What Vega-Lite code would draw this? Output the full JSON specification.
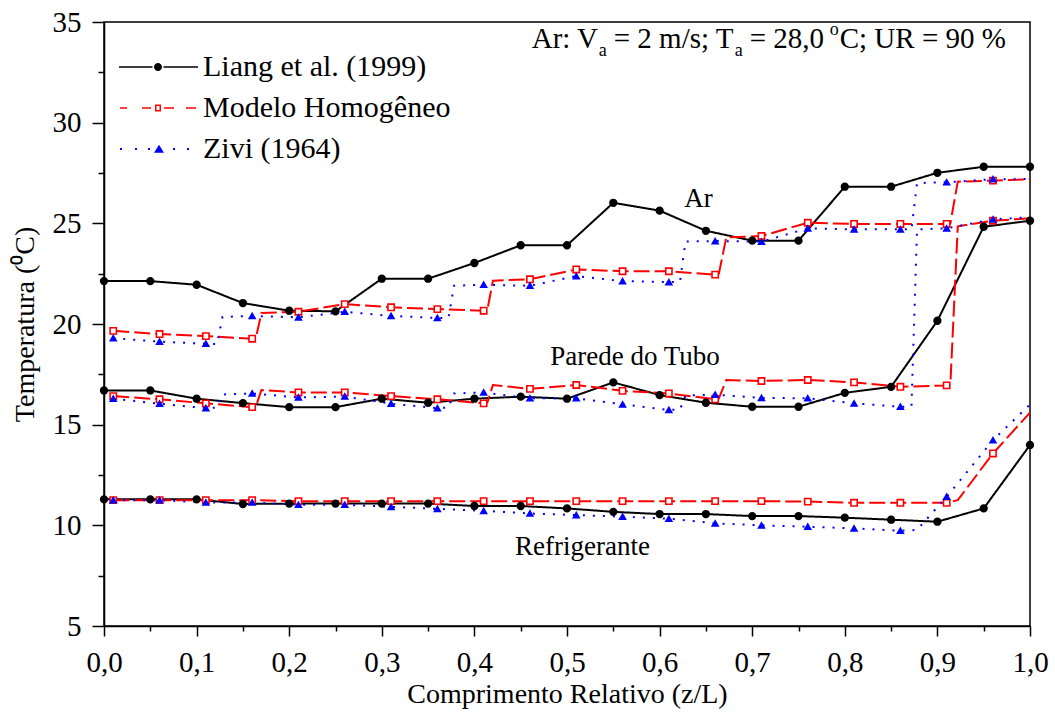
{
  "$schema": "https://vega.github.io/schema/vega-lite/v6.json",
  "width": 926,
  "height": 604,
  "autosize": {"type": "none"},
  "padding": {"left": 104, "top": 22, "right": 25, "bottom": 92},
  "background": "white",
  "config": {
    "view": {"stroke": "black", "strokeWidth": 1.5},
    "font": "Liberation Serif",
    "axis": {
      "grid": false,
      "domainColor": "black",
      "domainWidth": 1.5,
      "tickColor": "black",
      "tickWidth": 1.5,
      "labelColor": "black",
      "labelFont": "Liberation Serif",
      "labelFontSize": 29,
      "titleFont": "Liberation Serif",
      "titleFontSize": 28,
      "titleFontWeight": "normal",
      "titleColor": "black",
      "labelOverlap": false,
      "labelBound": false,
      "labelFlush": false
    }
  },
  "resolve": {"scale": {"shape": "independent", "fill": "independent"}},
  "datasets": {
    "medidas": [
      {"s": "Liang et al. (1999)", "c": "Ar", "z": 0.00, "T": 22.13, "m": 1},
      {"s": "Liang et al. (1999)", "c": "Ar", "z": 0.05, "T": 22.13, "m": 1},
      {"s": "Liang et al. (1999)", "c": "Ar", "z": 0.10, "T": 21.95, "m": 1},
      {"s": "Liang et al. (1999)", "c": "Ar", "z": 0.15, "T": 21.04, "m": 1},
      {"s": "Liang et al. (1999)", "c": "Ar", "z": 0.20, "T": 20.66, "m": 1},
      {"s": "Liang et al. (1999)", "c": "Ar", "z": 0.25, "T": 20.63, "m": 1},
      {"s": "Liang et al. (1999)", "c": "Ar", "z": 0.30, "T": 22.25, "m": 1},
      {"s": "Liang et al. (1999)", "c": "Ar", "z": 0.35, "T": 22.25, "m": 1},
      {"s": "Liang et al. (1999)", "c": "Ar", "z": 0.40, "T": 23.03, "m": 1},
      {"s": "Liang et al. (1999)", "c": "Ar", "z": 0.45, "T": 23.91, "m": 1},
      {"s": "Liang et al. (1999)", "c": "Ar", "z": 0.50, "T": 23.91, "m": 1},
      {"s": "Liang et al. (1999)", "c": "Ar", "z": 0.55, "T": 26.02, "m": 1},
      {"s": "Liang et al. (1999)", "c": "Ar", "z": 0.60, "T": 25.63, "m": 1},
      {"s": "Liang et al. (1999)", "c": "Ar", "z": 0.65, "T": 24.63, "m": 1},
      {"s": "Liang et al. (1999)", "c": "Ar", "z": 0.70, "T": 24.14, "m": 1},
      {"s": "Liang et al. (1999)", "c": "Ar", "z": 0.75, "T": 24.14, "m": 1},
      {"s": "Liang et al. (1999)", "c": "Ar", "z": 0.80, "T": 26.82, "m": 1},
      {"s": "Liang et al. (1999)", "c": "Ar", "z": 0.85, "T": 26.82, "m": 1},
      {"s": "Liang et al. (1999)", "c": "Ar", "z": 0.90, "T": 27.51, "m": 1},
      {"s": "Liang et al. (1999)", "c": "Ar", "z": 0.95, "T": 27.81, "m": 1},
      {"s": "Liang et al. (1999)", "c": "Ar", "z": 1.00, "T": 27.81, "m": 1},
      {"s": "Liang et al. (1999)", "c": "Parede", "z": 0.00, "T": 16.70, "m": 1},
      {"s": "Liang et al. (1999)", "c": "Parede", "z": 0.05, "T": 16.70, "m": 1},
      {"s": "Liang et al. (1999)", "c": "Parede", "z": 0.10, "T": 16.29, "m": 1},
      {"s": "Liang et al. (1999)", "c": "Parede", "z": 0.15, "T": 16.07, "m": 1},
      {"s": "Liang et al. (1999)", "c": "Parede", "z": 0.20, "T": 15.87, "m": 1},
      {"s": "Liang et al. (1999)", "c": "Parede", "z": 0.25, "T": 15.87, "m": 1},
      {"s": "Liang et al. (1999)", "c": "Parede", "z": 0.30, "T": 16.29, "m": 1},
      {"s": "Liang et al. (1999)", "c": "Parede", "z": 0.35, "T": 16.09, "m": 1},
      {"s": "Liang et al. (1999)", "c": "Parede", "z": 0.40, "T": 16.29, "m": 1},
      {"s": "Liang et al. (1999)", "c": "Parede", "z": 0.45, "T": 16.39, "m": 1},
      {"s": "Liang et al. (1999)", "c": "Parede", "z": 0.50, "T": 16.29, "m": 1},
      {"s": "Liang et al. (1999)", "c": "Parede", "z": 0.55, "T": 17.10, "m": 1},
      {"s": "Liang et al. (1999)", "c": "Parede", "z": 0.60, "T": 16.47, "m": 1},
      {"s": "Liang et al. (1999)", "c": "Parede", "z": 0.65, "T": 16.09, "m": 1},
      {"s": "Liang et al. (1999)", "c": "Parede", "z": 0.70, "T": 15.89, "m": 1},
      {"s": "Liang et al. (1999)", "c": "Parede", "z": 0.75, "T": 15.89, "m": 1},
      {"s": "Liang et al. (1999)", "c": "Parede", "z": 0.80, "T": 16.58, "m": 1},
      {"s": "Liang et al. (1999)", "c": "Parede", "z": 0.85, "T": 16.88, "m": 1},
      {"s": "Liang et al. (1999)", "c": "Parede", "z": 0.90, "T": 20.16, "m": 1},
      {"s": "Liang et al. (1999)", "c": "Parede", "z": 0.95, "T": 24.83, "m": 1},
      {"s": "Liang et al. (1999)", "c": "Parede", "z": 1.00, "T": 25.13, "m": 1},
      {"s": "Liang et al. (1999)", "c": "Refrigerante", "z": 0.00, "T": 11.29, "m": 1},
      {"s": "Liang et al. (1999)", "c": "Refrigerante", "z": 0.05, "T": 11.29, "m": 1},
      {"s": "Liang et al. (1999)", "c": "Refrigerante", "z": 0.10, "T": 11.29, "m": 1},
      {"s": "Liang et al. (1999)", "c": "Refrigerante", "z": 0.15, "T": 11.06, "m": 1},
      {"s": "Liang et al. (1999)", "c": "Refrigerante", "z": 0.20, "T": 11.08, "m": 1},
      {"s": "Liang et al. (1999)", "c": "Refrigerante", "z": 0.25, "T": 11.08, "m": 1},
      {"s": "Liang et al. (1999)", "c": "Refrigerante", "z": 0.30, "T": 11.08, "m": 1},
      {"s": "Liang et al. (1999)", "c": "Refrigerante", "z": 0.35, "T": 11.08, "m": 1},
      {"s": "Liang et al. (1999)", "c": "Refrigerante", "z": 0.40, "T": 10.96, "m": 1},
      {"s": "Liang et al. (1999)", "c": "Refrigerante", "z": 0.45, "T": 10.96, "m": 1},
      {"s": "Liang et al. (1999)", "c": "Refrigerante", "z": 0.50, "T": 10.84, "m": 1},
      {"s": "Liang et al. (1999)", "c": "Refrigerante", "z": 0.55, "T": 10.67, "m": 1},
      {"s": "Liang et al. (1999)", "c": "Refrigerante", "z": 0.60, "T": 10.56, "m": 1},
      {"s": "Liang et al. (1999)", "c": "Refrigerante", "z": 0.65, "T": 10.56, "m": 1},
      {"s": "Liang et al. (1999)", "c": "Refrigerante", "z": 0.70, "T": 10.46, "m": 1},
      {"s": "Liang et al. (1999)", "c": "Refrigerante", "z": 0.75, "T": 10.46, "m": 1},
      {"s": "Liang et al. (1999)", "c": "Refrigerante", "z": 0.80, "T": 10.38, "m": 1},
      {"s": "Liang et al. (1999)", "c": "Refrigerante", "z": 0.85, "T": 10.28, "m": 1},
      {"s": "Liang et al. (1999)", "c": "Refrigerante", "z": 0.90, "T": 10.18, "m": 1},
      {"s": "Liang et al. (1999)", "c": "Refrigerante", "z": 0.95, "T": 10.84, "m": 1},
      {"s": "Liang et al. (1999)", "c": "Refrigerante", "z": 1.00, "T": 13.99, "m": 1},

      {"s": "Modelo Homogêneo", "c": "Ar", "z": 0.01, "T": 19.66, "m": 1},
      {"s": "Modelo Homogêneo", "c": "Ar", "z": 0.06, "T": 19.50, "m": 1},
      {"s": "Modelo Homogêneo", "c": "Ar", "z": 0.11, "T": 19.40, "m": 1},
      {"s": "Modelo Homogêneo", "c": "Ar", "z": 0.16, "T": 19.27, "m": 1},
      {"s": "Modelo Homogêneo", "c": "Ar", "z": 0.164, "T": 19.30, "m": 0},
      {"s": "Modelo Homogêneo", "c": "Ar", "z": 0.17, "T": 20.55, "m": 0},
      {"s": "Modelo Homogêneo", "c": "Ar", "z": 0.21, "T": 20.61, "m": 1},
      {"s": "Modelo Homogêneo", "c": "Ar", "z": 0.26, "T": 20.99, "m": 1},
      {"s": "Modelo Homogêneo", "c": "Ar", "z": 0.31, "T": 20.83, "m": 1},
      {"s": "Modelo Homogêneo", "c": "Ar", "z": 0.36, "T": 20.74, "m": 1},
      {"s": "Modelo Homogêneo", "c": "Ar", "z": 0.41, "T": 20.66, "m": 1},
      {"s": "Modelo Homogêneo", "c": "Ar", "z": 0.414, "T": 20.70, "m": 0},
      {"s": "Modelo Homogêneo", "c": "Ar", "z": 0.42, "T": 22.15, "m": 0},
      {"s": "Modelo Homogêneo", "c": "Ar", "z": 0.46, "T": 22.22, "m": 1},
      {"s": "Modelo Homogêneo", "c": "Ar", "z": 0.51, "T": 22.71, "m": 1},
      {"s": "Modelo Homogêneo", "c": "Ar", "z": 0.56, "T": 22.62, "m": 1},
      {"s": "Modelo Homogêneo", "c": "Ar", "z": 0.61, "T": 22.62, "m": 1},
      {"s": "Modelo Homogêneo", "c": "Ar", "z": 0.66, "T": 22.45, "m": 1},
      {"s": "Modelo Homogêneo", "c": "Ar", "z": 0.664, "T": 22.50, "m": 0},
      {"s": "Modelo Homogêneo", "c": "Ar", "z": 0.672, "T": 24.30, "m": 0},
      {"s": "Modelo Homogêneo", "c": "Ar", "z": 0.71, "T": 24.37, "m": 1},
      {"s": "Modelo Homogêneo", "c": "Ar", "z": 0.76, "T": 25.03, "m": 1},
      {"s": "Modelo Homogêneo", "c": "Ar", "z": 0.81, "T": 24.97, "m": 1},
      {"s": "Modelo Homogêneo", "c": "Ar", "z": 0.86, "T": 24.97, "m": 1},
      {"s": "Modelo Homogêneo", "c": "Ar", "z": 0.91, "T": 24.97, "m": 1},
      {"s": "Modelo Homogêneo", "c": "Ar", "z": 0.914, "T": 25.00, "m": 0},
      {"s": "Modelo Homogêneo", "c": "Ar", "z": 0.922, "T": 27.07, "m": 0},
      {"s": "Modelo Homogêneo", "c": "Ar", "z": 0.96, "T": 27.12, "m": 1},
      {"s": "Modelo Homogêneo", "c": "Ar", "z": 1.00, "T": 27.19, "m": 0},
      {"s": "Modelo Homogêneo", "c": "Parede", "z": 0.01, "T": 16.42, "m": 1},
      {"s": "Modelo Homogêneo", "c": "Parede", "z": 0.06, "T": 16.26, "m": 1},
      {"s": "Modelo Homogêneo", "c": "Parede", "z": 0.11, "T": 16.06, "m": 1},
      {"s": "Modelo Homogêneo", "c": "Parede", "z": 0.16, "T": 15.87, "m": 1},
      {"s": "Modelo Homogêneo", "c": "Parede", "z": 0.164, "T": 15.90, "m": 0},
      {"s": "Modelo Homogêneo", "c": "Parede", "z": 0.17, "T": 16.72, "m": 0},
      {"s": "Modelo Homogêneo", "c": "Parede", "z": 0.21, "T": 16.60, "m": 1},
      {"s": "Modelo Homogêneo", "c": "Parede", "z": 0.26, "T": 16.60, "m": 1},
      {"s": "Modelo Homogêneo", "c": "Parede", "z": 0.31, "T": 16.42, "m": 1},
      {"s": "Modelo Homogêneo", "c": "Parede", "z": 0.36, "T": 16.26, "m": 1},
      {"s": "Modelo Homogêneo", "c": "Parede", "z": 0.41, "T": 16.06, "m": 1},
      {"s": "Modelo Homogêneo", "c": "Parede", "z": 0.414, "T": 16.10, "m": 0},
      {"s": "Modelo Homogêneo", "c": "Parede", "z": 0.42, "T": 16.97, "m": 0},
      {"s": "Modelo Homogêneo", "c": "Parede", "z": 0.46, "T": 16.78, "m": 1},
      {"s": "Modelo Homogêneo", "c": "Parede", "z": 0.51, "T": 16.97, "m": 1},
      {"s": "Modelo Homogêneo", "c": "Parede", "z": 0.56, "T": 16.68, "m": 1},
      {"s": "Modelo Homogêneo", "c": "Parede", "z": 0.61, "T": 16.55, "m": 1},
      {"s": "Modelo Homogêneo", "c": "Parede", "z": 0.66, "T": 16.26, "m": 1},
      {"s": "Modelo Homogêneo", "c": "Parede", "z": 0.664, "T": 16.30, "m": 0},
      {"s": "Modelo Homogêneo", "c": "Parede", "z": 0.672, "T": 17.22, "m": 0},
      {"s": "Modelo Homogêneo", "c": "Parede", "z": 0.71, "T": 17.17, "m": 1},
      {"s": "Modelo Homogêneo", "c": "Parede", "z": 0.76, "T": 17.22, "m": 1},
      {"s": "Modelo Homogêneo", "c": "Parede", "z": 0.81, "T": 17.10, "m": 1},
      {"s": "Modelo Homogêneo", "c": "Parede", "z": 0.86, "T": 16.88, "m": 1},
      {"s": "Modelo Homogêneo", "c": "Parede", "z": 0.91, "T": 16.95, "m": 1},
      {"s": "Modelo Homogêneo", "c": "Parede", "z": 0.914, "T": 17.00, "m": 0},
      {"s": "Modelo Homogêneo", "c": "Parede", "z": 0.922, "T": 24.85, "m": 0},
      {"s": "Modelo Homogêneo", "c": "Parede", "z": 0.96, "T": 25.13, "m": 1},
      {"s": "Modelo Homogêneo", "c": "Parede", "z": 1.00, "T": 25.25, "m": 0},
      {"s": "Modelo Homogêneo", "c": "Refrigerante", "z": 0.01, "T": 11.25, "m": 1},
      {"s": "Modelo Homogêneo", "c": "Refrigerante", "z": 0.06, "T": 11.25, "m": 1},
      {"s": "Modelo Homogêneo", "c": "Refrigerante", "z": 0.11, "T": 11.25, "m": 1},
      {"s": "Modelo Homogêneo", "c": "Refrigerante", "z": 0.16, "T": 11.25, "m": 1},
      {"s": "Modelo Homogêneo", "c": "Refrigerante", "z": 0.21, "T": 11.20, "m": 1},
      {"s": "Modelo Homogêneo", "c": "Refrigerante", "z": 0.26, "T": 11.20, "m": 1},
      {"s": "Modelo Homogêneo", "c": "Refrigerante", "z": 0.31, "T": 11.20, "m": 1},
      {"s": "Modelo Homogêneo", "c": "Refrigerante", "z": 0.36, "T": 11.20, "m": 1},
      {"s": "Modelo Homogêneo", "c": "Refrigerante", "z": 0.41, "T": 11.20, "m": 1},
      {"s": "Modelo Homogêneo", "c": "Refrigerante", "z": 0.46, "T": 11.20, "m": 1},
      {"s": "Modelo Homogêneo", "c": "Refrigerante", "z": 0.51, "T": 11.20, "m": 1},
      {"s": "Modelo Homogêneo", "c": "Refrigerante", "z": 0.56, "T": 11.20, "m": 1},
      {"s": "Modelo Homogêneo", "c": "Refrigerante", "z": 0.61, "T": 11.20, "m": 1},
      {"s": "Modelo Homogêneo", "c": "Refrigerante", "z": 0.66, "T": 11.20, "m": 1},
      {"s": "Modelo Homogêneo", "c": "Refrigerante", "z": 0.71, "T": 11.20, "m": 1},
      {"s": "Modelo Homogêneo", "c": "Refrigerante", "z": 0.76, "T": 11.18, "m": 1},
      {"s": "Modelo Homogêneo", "c": "Refrigerante", "z": 0.81, "T": 11.12, "m": 1},
      {"s": "Modelo Homogêneo", "c": "Refrigerante", "z": 0.86, "T": 11.12, "m": 1},
      {"s": "Modelo Homogêneo", "c": "Refrigerante", "z": 0.91, "T": 11.12, "m": 1},
      {"s": "Modelo Homogêneo", "c": "Refrigerante", "z": 0.922, "T": 11.25, "m": 0},
      {"s": "Modelo Homogêneo", "c": "Refrigerante", "z": 0.96, "T": 13.57, "m": 1},
      {"s": "Modelo Homogêneo", "c": "Refrigerante", "z": 1.00, "T": 15.60, "m": 0},

      {"s": "Zivi (1964)", "c": "Ar", "z": 0.01, "T": 19.30, "m": 1},
      {"s": "Zivi (1964)", "c": "Ar", "z": 0.06, "T": 19.12, "m": 1},
      {"s": "Zivi (1964)", "c": "Ar", "z": 0.11, "T": 19.02, "m": 1},
      {"s": "Zivi (1964)", "c": "Ar", "z": 0.122, "T": 19.00, "m": 0},
      {"s": "Zivi (1964)", "c": "Ar", "z": 0.128, "T": 20.35, "m": 0},
      {"s": "Zivi (1964)", "c": "Ar", "z": 0.16, "T": 20.40, "m": 1},
      {"s": "Zivi (1964)", "c": "Ar", "z": 0.21, "T": 20.33, "m": 1},
      {"s": "Zivi (1964)", "c": "Ar", "z": 0.26, "T": 20.61, "m": 1},
      {"s": "Zivi (1964)", "c": "Ar", "z": 0.31, "T": 20.40, "m": 1},
      {"s": "Zivi (1964)", "c": "Ar", "z": 0.36, "T": 20.30, "m": 1},
      {"s": "Zivi (1964)", "c": "Ar", "z": 0.372, "T": 20.30, "m": 0},
      {"s": "Zivi (1964)", "c": "Ar", "z": 0.378, "T": 21.90, "m": 0},
      {"s": "Zivi (1964)", "c": "Ar", "z": 0.41, "T": 21.95, "m": 1},
      {"s": "Zivi (1964)", "c": "Ar", "z": 0.46, "T": 21.90, "m": 1},
      {"s": "Zivi (1964)", "c": "Ar", "z": 0.51, "T": 22.38, "m": 1},
      {"s": "Zivi (1964)", "c": "Ar", "z": 0.56, "T": 22.13, "m": 1},
      {"s": "Zivi (1964)", "c": "Ar", "z": 0.61, "T": 22.08, "m": 1},
      {"s": "Zivi (1964)", "c": "Ar", "z": 0.622, "T": 22.10, "m": 0},
      {"s": "Zivi (1964)", "c": "Ar", "z": 0.628, "T": 24.10, "m": 0},
      {"s": "Zivi (1964)", "c": "Ar", "z": 0.66, "T": 24.12, "m": 1},
      {"s": "Zivi (1964)", "c": "Ar", "z": 0.71, "T": 24.09, "m": 1},
      {"s": "Zivi (1964)", "c": "Ar", "z": 0.76, "T": 24.75, "m": 1},
      {"s": "Zivi (1964)", "c": "Ar", "z": 0.81, "T": 24.70, "m": 1},
      {"s": "Zivi (1964)", "c": "Ar", "z": 0.86, "T": 24.70, "m": 1},
      {"s": "Zivi (1964)", "c": "Ar", "z": 0.872, "T": 24.70, "m": 0},
      {"s": "Zivi (1964)", "c": "Ar", "z": 0.878, "T": 27.00, "m": 0},
      {"s": "Zivi (1964)", "c": "Ar", "z": 0.91, "T": 27.04, "m": 1},
      {"s": "Zivi (1964)", "c": "Ar", "z": 0.96, "T": 27.19, "m": 1},
      {"s": "Zivi (1964)", "c": "Ar", "z": 1.00, "T": 27.20, "m": 0},
      {"s": "Zivi (1964)", "c": "Parede", "z": 0.01, "T": 16.29, "m": 1},
      {"s": "Zivi (1964)", "c": "Parede", "z": 0.06, "T": 16.04, "m": 1},
      {"s": "Zivi (1964)", "c": "Parede", "z": 0.11, "T": 15.82, "m": 1},
      {"s": "Zivi (1964)", "c": "Parede", "z": 0.122, "T": 15.85, "m": 0},
      {"s": "Zivi (1964)", "c": "Parede", "z": 0.128, "T": 16.50, "m": 0},
      {"s": "Zivi (1964)", "c": "Parede", "z": 0.16, "T": 16.55, "m": 1},
      {"s": "Zivi (1964)", "c": "Parede", "z": 0.21, "T": 16.35, "m": 1},
      {"s": "Zivi (1964)", "c": "Parede", "z": 0.26, "T": 16.40, "m": 1},
      {"s": "Zivi (1964)", "c": "Parede", "z": 0.31, "T": 16.04, "m": 1},
      {"s": "Zivi (1964)", "c": "Parede", "z": 0.36, "T": 15.82, "m": 1},
      {"s": "Zivi (1964)", "c": "Parede", "z": 0.372, "T": 15.85, "m": 0},
      {"s": "Zivi (1964)", "c": "Parede", "z": 0.378, "T": 16.55, "m": 0},
      {"s": "Zivi (1964)", "c": "Parede", "z": 0.41, "T": 16.60, "m": 1},
      {"s": "Zivi (1964)", "c": "Parede", "z": 0.46, "T": 16.31, "m": 1},
      {"s": "Zivi (1964)", "c": "Parede", "z": 0.51, "T": 16.31, "m": 1},
      {"s": "Zivi (1964)", "c": "Parede", "z": 0.56, "T": 16.01, "m": 1},
      {"s": "Zivi (1964)", "c": "Parede", "z": 0.61, "T": 15.73, "m": 1},
      {"s": "Zivi (1964)", "c": "Parede", "z": 0.622, "T": 15.75, "m": 0},
      {"s": "Zivi (1964)", "c": "Parede", "z": 0.628, "T": 16.45, "m": 0},
      {"s": "Zivi (1964)", "c": "Parede", "z": 0.66, "T": 16.49, "m": 1},
      {"s": "Zivi (1964)", "c": "Parede", "z": 0.71, "T": 16.33, "m": 1},
      {"s": "Zivi (1964)", "c": "Parede", "z": 0.76, "T": 16.31, "m": 1},
      {"s": "Zivi (1964)", "c": "Parede", "z": 0.81, "T": 16.06, "m": 1},
      {"s": "Zivi (1964)", "c": "Parede", "z": 0.86, "T": 15.89, "m": 1},
      {"s": "Zivi (1964)", "c": "Parede", "z": 0.872, "T": 15.90, "m": 0},
      {"s": "Zivi (1964)", "c": "Parede", "z": 0.878, "T": 24.70, "m": 0},
      {"s": "Zivi (1964)", "c": "Parede", "z": 0.91, "T": 24.75, "m": 1},
      {"s": "Zivi (1964)", "c": "Parede", "z": 0.96, "T": 25.20, "m": 1},
      {"s": "Zivi (1964)", "c": "Parede", "z": 1.00, "T": 25.30, "m": 0},
      {"s": "Zivi (1964)", "c": "Refrigerante", "z": 0.01, "T": 11.25, "m": 1},
      {"s": "Zivi (1964)", "c": "Refrigerante", "z": 0.06, "T": 11.25, "m": 1},
      {"s": "Zivi (1964)", "c": "Refrigerante", "z": 0.11, "T": 11.14, "m": 1},
      {"s": "Zivi (1964)", "c": "Refrigerante", "z": 0.16, "T": 11.14, "m": 1},
      {"s": "Zivi (1964)", "c": "Refrigerante", "z": 0.21, "T": 11.02, "m": 1},
      {"s": "Zivi (1964)", "c": "Refrigerante", "z": 0.26, "T": 11.02, "m": 1},
      {"s": "Zivi (1964)", "c": "Refrigerante", "z": 0.31, "T": 10.92, "m": 1},
      {"s": "Zivi (1964)", "c": "Refrigerante", "z": 0.36, "T": 10.82, "m": 1},
      {"s": "Zivi (1964)", "c": "Refrigerante", "z": 0.41, "T": 10.72, "m": 1},
      {"s": "Zivi (1964)", "c": "Refrigerante", "z": 0.46, "T": 10.59, "m": 1},
      {"s": "Zivi (1964)", "c": "Refrigerante", "z": 0.51, "T": 10.51, "m": 1},
      {"s": "Zivi (1964)", "c": "Refrigerante", "z": 0.56, "T": 10.43, "m": 1},
      {"s": "Zivi (1964)", "c": "Refrigerante", "z": 0.61, "T": 10.33, "m": 1},
      {"s": "Zivi (1964)", "c": "Refrigerante", "z": 0.66, "T": 10.10, "m": 1},
      {"s": "Zivi (1964)", "c": "Refrigerante", "z": 0.71, "T": 10.00, "m": 1},
      {"s": "Zivi (1964)", "c": "Refrigerante", "z": 0.76, "T": 9.93, "m": 1},
      {"s": "Zivi (1964)", "c": "Refrigerante", "z": 0.81, "T": 9.85, "m": 1},
      {"s": "Zivi (1964)", "c": "Refrigerante", "z": 0.86, "T": 9.73, "m": 1},
      {"s": "Zivi (1964)", "c": "Refrigerante", "z": 0.878, "T": 9.77, "m": 0},
      {"s": "Zivi (1964)", "c": "Refrigerante", "z": 0.91, "T": 11.42, "m": 1},
      {"s": "Zivi (1964)", "c": "Refrigerante", "z": 0.96, "T": 14.23, "m": 1},
      {"s": "Zivi (1964)", "c": "Refrigerante", "z": 1.00, "T": 16.00, "m": 0}
    ],
    "rotulos": [
      {"z": 0.642, "T": 25.81, "rotulo": "Ar"},
      {"z": 0.5734, "T": 17.96, "rotulo": "Parede do Tubo"},
      {"z": 0.5167, "T": 8.52, "rotulo": "Refrigerante"}
    ],
    "condicoes": [
      {"z": 0.4619, "T": 33.71}
    ]
  },
  "encoding": {
    "x": {
      "field": "z",
      "type": "quantitative",
      "scale": {"domain": [0, 1], "nice": false, "zero": false},
      "axis": {
        "title": "Comprimento Relativo (z/L)",
        "values": [0, 0.05, 0.1, 0.15, 0.2, 0.25, 0.3, 0.35, 0.4, 0.45, 0.5, 0.55, 0.6, 0.65, 0.7, 0.75, 0.8, 0.85, 0.9, 0.95, 1.0],
        "labelExpr": "round(datum.value * 20) % 2 == 0 ? replace(format(datum.value, '.1f'), '.', ',') : ''",
        "tickSize": {"condition": {"test": "round(datum.value * 20) % 2 == 1", "value": 5}, "value": 10},
        "labelPadding": 12,
        "titlePadding": 3
      }
    },
    "y": {
      "field": "T",
      "type": "quantitative",
      "scale": {"domain": [5, 35], "nice": false, "zero": false},
      "axis": {
        "title": "Temperatura (⁰C)",
        "values": [5, 7.5, 10, 12.5, 15, 17.5, 20, 22.5, 25, 27.5, 30, 32.5, 35],
        "labelExpr": "datum.value % 5 == 0 ? format(datum.value, 'd') : ''",
        "tickSize": {"condition": {"test": "datum.value % 5 != 0", "value": 6}, "value": 12},
        "labelPadding": 11,
        "titlePadding": 13
      }
    }
  },
  "layer": [
    {
      "data": {"name": "medidas"},
      "mark": {"type": "line", "interpolate": "linear"},
      "encoding": {
        "color": {
          "field": "s",
          "type": "nominal",
          "scale": {"domain": ["Liang et al. (1999)", "Modelo Homogêneo", "Zivi (1964)"], "range": ["black", "#ff0000", "#0000ff"]},
          "legend": null
        },
        "strokeDash": {
          "field": "s",
          "type": "nominal",
          "scale": {"domain": ["Liang et al. (1999)", "Modelo Homogêneo", "Zivi (1964)"], "range": [[1, 0], [16, 5], [2, 8]]},
          "legend": null
        },
        "strokeWidth": {
          "field": "s",
          "type": "nominal",
          "scale": {"domain": ["Liang et al. (1999)", "Modelo Homogêneo", "Zivi (1964)"], "range": [2, 2, 2.5]},
          "legend": null
        },
        "detail": {"field": "c"}
      }
    },
    {
      "data": {"name": "medidas"},
      "transform": [{"filter": "datum.m == 1"}],
      "mark": {"type": "point", "filled": false, "strokeWidth": 1.6, "opacity": 1},
      "encoding": {
        "shape": {
          "field": "s",
          "type": "nominal",
          "scale": {"domain": ["Liang et al. (1999)", "Modelo Homogêneo", "Zivi (1964)"], "range": ["circle", "square", "triangle-up"]},
          "legend": null
        },
        "size": {
          "field": "s",
          "type": "nominal",
          "scale": {"domain": ["Liang et al. (1999)", "Modelo Homogêneo", "Zivi (1964)"], "range": [45, 34, 190]},
          "legend": null
        },
        "stroke": {
          "field": "s",
          "type": "nominal",
          "scale": {"domain": ["Liang et al. (1999)", "Modelo Homogêneo", "Zivi (1964)"], "range": ["black", "#ff0000", "#0000ff"]},
          "legend": null
        },
        "fill": {
          "field": "s",
          "type": "nominal",
          "scale": {"domain": ["Liang et al. (1999)", "Modelo Homogêneo", "Zivi (1964)"], "range": ["black", "white", "#0000ff"]},
          "legend": null
        }
      }
    },
    {
      "data": {"name": "medidas"},
      "transform": [{"filter": "datum.m == 1 && datum.c == 'Ar' && datum.z < 0.02"}],
      "mark": {"type": "point", "filled": true, "opacity": 0, "size": 400},
      "encoding": {
        "shape": {
          "field": "s",
          "type": "nominal",
          "scale": {
            "domain": ["Liang et al. (1999)", "Modelo Homogêneo", "Zivi (1964)"],
            "range": [
              "M-3.9,-0.08H-0.55V0.08H-3.9Z M0.55,-0.08H4V0.08H0.55Z M0.4,0A0.4,0.4 0 1,1 -0.4,0A0.4,0.4 0 1,1 0.4,0Z",
              "M-3.8,-0.08H-3.1V0.08H-3.8Z M-1.6,-0.08H-0.7V0.08H-1.6Z M0.6,-0.08H1.6V0.08H0.6Z M2.8,-0.08H3.8V0.08H2.8Z M-0.3,-0.35H0.3V0.35H-0.3Z M-0.15,-0.2V0.2H0.15V-0.2Z",
              "M-3.8,-0.1H-3.6V0.1H-3.8Z M-2.3,-0.1H-2.1V0.1H-2.3Z M-1,-0.1H-0.8V0.1H-1Z M1.5,-0.1H1.7V0.1H1.5Z M2.9,-0.1H3.1V0.1H2.9Z M0.1,-0.42L0.6,0.38H-0.4Z"
            ]
          },
          "legend": {
            "title": null,
            "orient": "none",
            "legendX": 39,
            "legendY": 30,
            "padding": 0,
            "symbolSize": 400,
            "symbolStrokeWidth": 0,
            "symbolOpacity": 1,
            "labelFont": "Liberation Serif",
            "labelFontSize": 30,
            "labelColor": "black",
            "labelOffset": 30,
            "labelLimit": 500,
            "rowPadding": 11
          }
        },
        "fill": {
          "field": "s",
          "type": "nominal",
          "scale": {"domain": ["Liang et al. (1999)", "Modelo Homogêneo", "Zivi (1964)"], "range": ["black", "#ff0000", "#0000ff"]},
          "legend": {
            "title": null,
            "orient": "none",
            "legendX": 39,
            "legendY": 30,
            "padding": 0,
            "symbolSize": 400,
            "symbolStrokeWidth": 0,
            "symbolOpacity": 1,
            "labelFont": "Liberation Serif",
            "labelFontSize": 30,
            "labelColor": "black",
            "labelOffset": 30,
            "labelLimit": 500,
            "rowPadding": 11
          }
        }
      }
    },
    {
      "data": {"name": "rotulos"},
      "mark": {"type": "text", "font": "Liberation Serif", "fontSize": 27, "align": "center", "baseline": "alphabetic", "color": "black"},
      "encoding": {"text": {"field": "rotulo"}}
    },
    {
      "data": {"name": "condicoes"},
      "mark": {"type": "text", "font": "Liberation Serif", "fontSize": 29, "align": "left", "baseline": "alphabetic", "color": "black", "dx": 0},
      "encoding": {"text": {"value": "Ar: V"}}
    },
    {
      "data": {"name": "condicoes"},
      "mark": {"type": "text", "font": "Liberation Serif", "fontSize": 18, "align": "left", "baseline": "alphabetic", "color": "black", "dx": 67, "dy": 8},
      "encoding": {"text": {"value": "a"}}
    },
    {
      "data": {"name": "condicoes"},
      "mark": {"type": "text", "font": "Liberation Serif", "fontSize": 29, "align": "left", "baseline": "alphabetic", "color": "black", "dx": 82},
      "encoding": {"text": {"value": "= 2 m/s; T"}}
    },
    {
      "data": {"name": "condicoes"},
      "mark": {"type": "text", "font": "Liberation Serif", "fontSize": 18, "align": "left", "baseline": "alphabetic", "color": "black", "dx": 203, "dy": 8},
      "encoding": {"text": {"value": "a"}}
    },
    {
      "data": {"name": "condicoes"},
      "mark": {"type": "text", "font": "Liberation Serif", "fontSize": 29, "align": "left", "baseline": "alphabetic", "color": "black", "dx": 218},
      "encoding": {"text": {"value": "= 28,0"}}
    },
    {
      "data": {"name": "condicoes"},
      "mark": {"type": "text", "font": "Liberation Serif", "fontSize": 18, "align": "left", "baseline": "alphabetic", "color": "black", "dx": 298, "dy": -13},
      "encoding": {"text": {"value": "o"}}
    },
    {
      "data": {"name": "condicoes"},
      "mark": {"type": "text", "font": "Liberation Serif", "fontSize": 29, "align": "left", "baseline": "alphabetic", "color": "black", "dx": 308},
      "encoding": {"text": {"value": "C; UR = 90 %"}}
    }
  ]
}
